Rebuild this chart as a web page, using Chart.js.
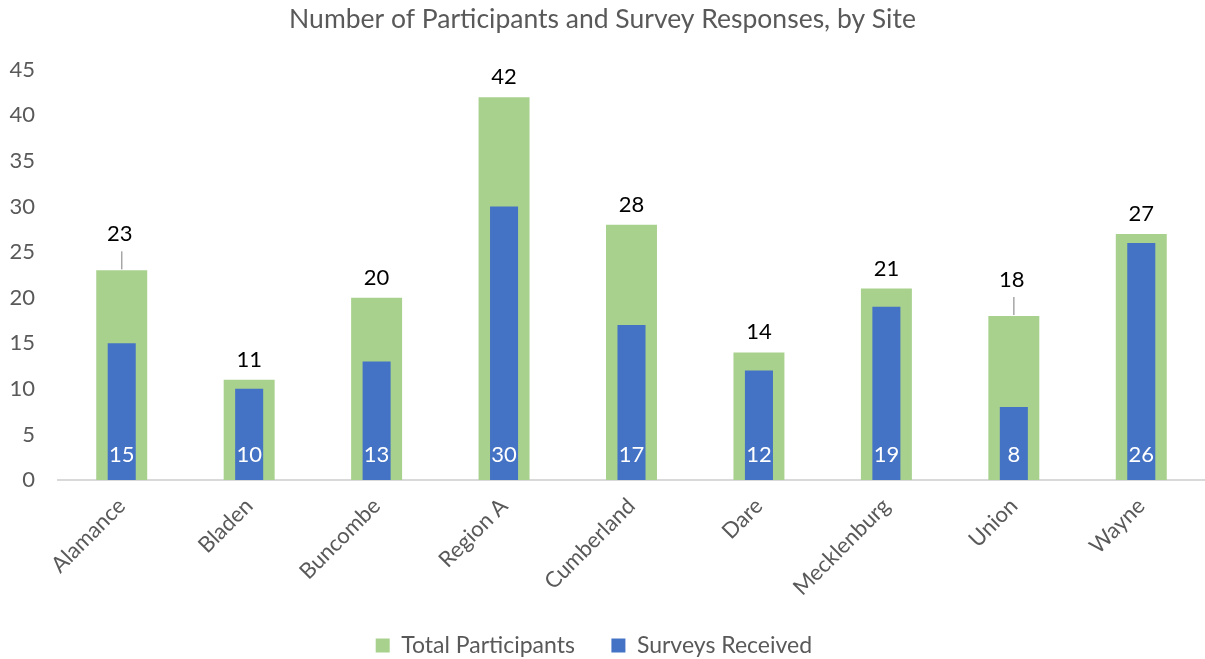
<!DOCTYPE html>
<html>
<head>
<meta charset="utf-8">
<script src="https://cdn.jsdelivr.net/npm/chart.js@4/dist/chart.umd.min.js"></script>
<style>
    html, body { margin: 0; padding: 0; background: #ffffff; }
    #wrap { width: 1205px; height: 659px; }
</style>
</head>
<body>
<div id="wrap"><canvas id="site-chart" width="1205" height="659"></canvas></div>
<script>
const sites = ['Alamance', 'Bladen', 'Buncombe', 'Region A', 'Cumberland', 'Dare', 'Mecklenburg', 'Union', 'Wayne'];
const total_participants = [23, 11, 20, 42, 28, 14, 21, 18, 27];
const surveys_received = [15, 10, 13, 30, 17, 12, 19, 8, 26];
const y_ticks = [0, 5, 10, 15, 20, 25, 30, 35, 40, 45];
// labels that Excel moved up with a leader line
const leader_sites = ['Alamance', 'Union'];

const font_family = 'Lato, "Open Sans", sans-serif';
const text_gray = '#595959';

const bar_labels_plugin = {
    id: 'bar_labels',
    afterDatasetsDraw(chart) {
        const ctx = chart.ctx;
        const y_scale = chart.scales.y;
        ctx.save();
        ctx.font = '22px ' + font_family;
        ctx.textAlign = 'center';
        ctx.textBaseline = 'middle';

        chart.getDatasetMeta(0).data.forEach((bar, i) => {
            const has_leader = leader_sites.includes(sites[i]);
            const label_y = has_leader ? bar.y - 36 : bar.y - 20;
            if (has_leader) {
                ctx.strokeStyle = '#a6a6a6';
                ctx.lineWidth = 1.5;
                ctx.beginPath();
                ctx.moveTo(bar.x, label_y + 17);
                ctx.lineTo(bar.x, bar.y - 1);
                ctx.stroke();
            }
            ctx.fillStyle = '#000000';
            ctx.fillText(String(total_participants[i]), bar.x - (has_leader ? 2 : 0), label_y);
        });

        chart.getDatasetMeta(1).data.forEach((bar, i) => {
            ctx.fillStyle = '#ffffff';
            ctx.fillText(String(surveys_received[i]), bar.x, y_scale.getPixelForValue(0) - 25);
        });
        ctx.restore();
    }
};

const site_chart = new Chart(document.getElementById('site-chart'), {
    type: 'bar',
    data: {
        labels: sites,
        datasets: [
            {
                label: 'Total Participants',
                data: total_participants,
                backgroundColor: '#a9d18e',
                grouped: false,
                categoryPercentage: 1,
                barPercentage: 0.4,
                order: 2
            },
            {
                label: 'Surveys Received',
                data: surveys_received,
                backgroundColor: '#4472c4',
                grouped: false,
                categoryPercentage: 1,
                barPercentage: 0.22,
                order: 1
            }
        ]
    },
    options: {
        responsive: false,
        animation: false,
        layout: {
            padding: { left: 0, right: 0, top: 0, bottom: -8 }
        },
        plugins: {
            title: {
                display: true,
                text: 'Number of Participants and Survey Responses, by Site',
                color: text_gray,
                font: { family: font_family, size: 26.5, weight: 'normal' },
                padding: { top: 4, bottom: 34 }
            },
            legend: {
                position: 'bottom',
                labels: {
                    color: text_gray,
                    font: { family: font_family, size: 23 },
                    boxWidth: 14,
                    boxHeight: 14,
                    padding: 2,
                    sort: (a, b) => a.datasetIndex - b.datasetIndex,
                    generateLabels(chart) {
                        const items = Chart.defaults.plugins.legend.labels.generateLabels(chart);
                        // wider gap between the two items
                        items[0].text = items[0].text + '\u2003';
                        items[1].text = items[1].text + '\u2003\u2003';
                        return items;
                    }
                }
            },
            tooltip: { enabled: false }
        },
        scales: {
            x: {
                afterFit(axis) {
                    axis.height = 152;
                },
                grid: { display: false, drawTicks: false },
                border: { display: true, color: '#d9d9d9', width: 2 },
                ticks: {
                    color: text_gray,
                    font: { family: font_family, size: 22 },
                    minRotation: 45,
                    maxRotation: 45,
                    padding: 13
                }
            },
            y: {
                min: 0,
                max: 45,
                afterBuildTicks(axis) {
                    axis.ticks = y_ticks.map(v => ({ value: v }));
                },
                afterFit(axis) {
                    axis.width = 58;
                },
                grid: { display: false, drawTicks: false },
                border: { display: false },
                ticks: {
                    color: text_gray,
                    font: { family: font_family, size: 22 },
                    padding: 23
                }
            }
        }
    },
    plugins: [bar_labels_plugin]
});
</script>
</body>
</html>
